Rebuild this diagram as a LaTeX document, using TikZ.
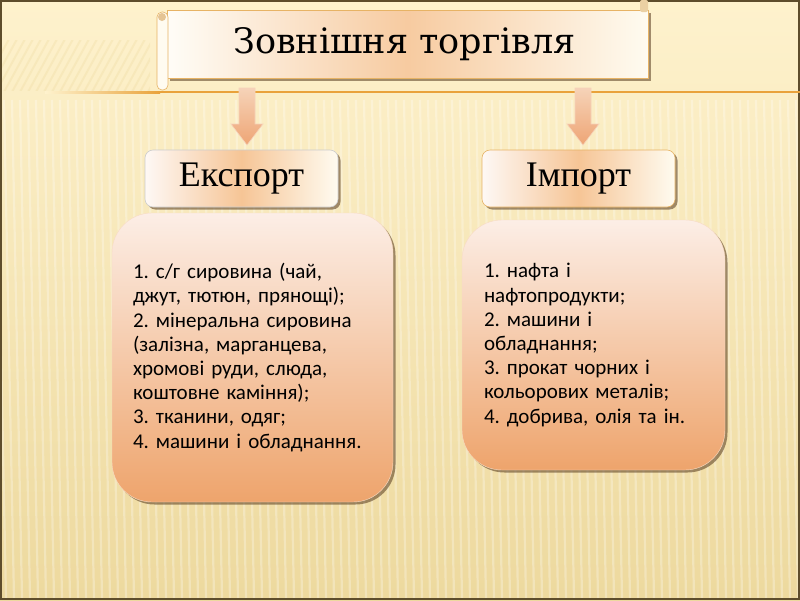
\documentclass[tikz,border=0pt]{standalone}
\usepackage{fontspec}
\setmainfont{Liberation Serif}
\newfontfamily\titlefont{DejaVu Serif}
\newfontfamily\bodyfont{Carlito}
\usetikzlibrary{shadows,calc}
\frenchspacing
\definecolor{bgtop}{HTML}{FEF2CD}
\definecolor{bgbot}{HTML}{EDD99E}
\definecolor{frame}{HTML}{5E4D2C}
\definecolor{linec}{HTML}{E9A23A}
\definecolor{scrollb}{HTML}{E7B365}
\definecolor{peachlt}{HTML}{FCEEE6}
\definecolor{peachdk}{HTML}{EEA46C}
\definecolor{arrowt}{HTML}{F6D3B8}
\definecolor{arrowb}{HTML}{EEA575}
\definecolor{labmid}{HTML}{F6C596}
\tikzset{
  shad/.style={drop shadow={shadow xshift=2.5pt,shadow yshift=-2.5pt,fill=black!55!brown,opacity=0.55}},
  labelbox/.style={shad,draw=#1,line width=0.6pt,rounded corners=8pt,minimum width=193pt,minimum height=57pt,
    left color=white!60!peachlt,right color=white!70!bgtop,middle color=labmid,
    font=\fontsize{36}{40}\selectfont,inner sep=0pt},
  listbox/.style={shad,rounded corners=40pt,top color=peachlt,bottom color=peachdk,draw=white!60!peachdk,line width=0.4pt,
    font=\bodyfont\fontsize{21}{24.2}\selectfont,align=left,anchor=center},
  downarrow/.style={draw=white!50!arrowb,line width=0.6pt,top color=arrowt,bottom color=arrowb},
}
\begin{document}
\begin{tikzpicture}[x=1pt,y=-1pt]
\useasboundingbox (0,0) rectangle (800,600);
% background
\shade[top color=bgtop,bottom color=bgbot] (0,0) rectangle (800,600);
\begin{scope}
\clip (0,95) rectangle (800,598);
\foreach \i in {0,...,110}{
  \draw[white,opacity=0.28,line width=2.2pt] (\i*8-20,100) -- (\i*8-10,598);
}
\end{scope}
\begin{scope}
\clip (0,40) rectangle (150,90);
\foreach \i in {0,...,30}{
  \draw[bgbot,opacity=0.3,line width=2pt] (\i*8-20,92) -- (\i*8+14,30);
}
\end{scope}
\draw[frame,line width=1.6pt] (0.8,0.8) rectangle (799.2,599.2);
% horizontal line
\shade[left color=bgtop,right color=linec] (45,91) rectangle (160,93);
\fill[linec] (160,91) rectangle (800,93);
% scroll
\node[shad,draw=scrollb,line width=0.6pt,minimum width=481pt,minimum height=68pt,inner sep=0pt,
  left color=white!85!bgtop,right color=white!70!bgtop,middle color=white!10!labmid,
  font=\titlefont\fontsize{35}{40}\selectfont] (title) at (407.5,44) {\kern-6pt Зовнішня торгівля};
\draw[draw=scrollb,line width=0.6pt,fill=white!70!bgtop,rounded corners=5pt] (157,12) rectangle (168,90);
\fill[brown!40!bgtop] (162,17) circle (4);
\fill[brown!30!bgtop,rounded corners=2pt] (640,0) rectangle (648,12);
% label boxes
\node[labelbox=white!80!black] (exp) at (241.5,178.5) {Експорт};
\node[labelbox=scrollb] (imp) at (578.5,178.5) {Імпорт};
% arrows
\draw[downarrow] (239,88) -- (255,88) -- (255,124) -- (263,124) -- (247,145) -- (231,124) -- (239,124) -- cycle;
\draw[downarrow] (575,88) -- (591,88) -- (591,124) -- (599,124) -- (583,145) -- (567,124) -- (575,124) -- cycle;
% list boxes
\node[listbox,minimum width=281pt,minimum height=289pt,text width=239pt] (expl) at (252.5,357.5)
{1. с/г сировина (чай,\\ джут, тютюн, прянощі);\\ 2. мінеральна сировина\\ (залізна, марганцева,\\ хромові руди, слюда,\\ коштовне каміння);\\ 3. тканини, одяг;\\ 4. машини і обладнання.};
\node[listbox,minimum width=263pt,minimum height=250pt,text width=219pt] (impl) at (593.5,345)
{1. нафта і\\ нафтопродукти;\\ 2. машини і\\ обладнання;\\ 3. прокат чорних і\\ кольорових металів;\\ 4. добрива, олія та ін.};
\end{tikzpicture}
\end{document}
